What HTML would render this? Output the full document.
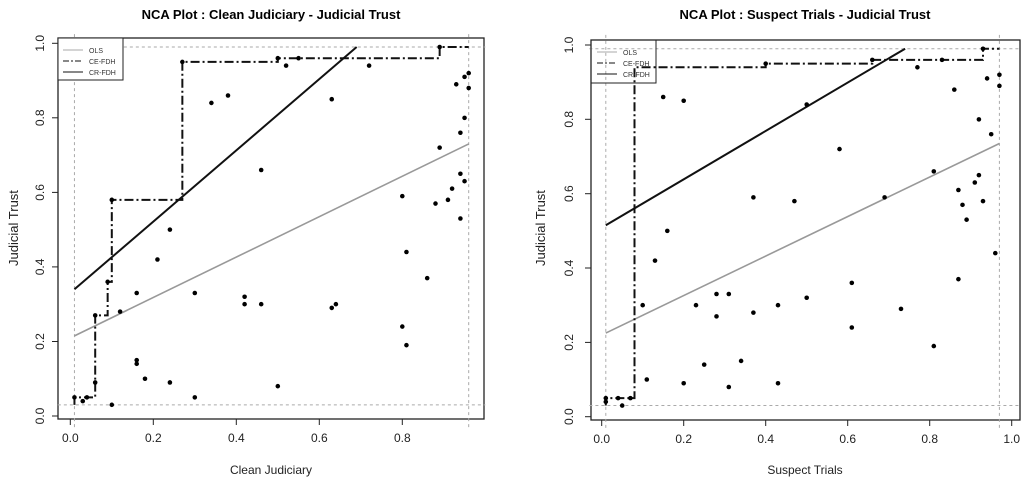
<!DOCTYPE html>
<html><head><meta charset="utf-8"><style>
html,body{margin:0;padding:0;background:#fff;}
svg{display:block;font-family:"Liberation Sans",Arial,sans-serif;}
</style></head><body>
<svg width="1024" height="484" viewBox="0 0 1024 484" xmlns="http://www.w3.org/2000/svg">
<rect width="1024" height="484" fill="#fff"/>
<!-- LEFT -->
<text x="271" y="19" text-anchor="middle" font-size="13" font-weight="bold">NCA Plot : Clean Judiciary - Judicial Trust</text>
<rect x="58" y="38" width="426" height="381" fill="none" stroke="#222" stroke-width="1.3"/>
<g stroke="#222" stroke-width="1">
<line x1="70.3" y1="419" x2="402.3" y2="419"/>
<line x1="70.3" y1="419" x2="70.3" y2="425"/><line x1="153.3" y1="419" x2="153.3" y2="425"/><line x1="236.3" y1="419" x2="236.3" y2="425"/><line x1="319.3" y1="419" x2="319.3" y2="425"/><line x1="402.3" y1="419" x2="402.3" y2="425"/>
<line x1="58" y1="416" x2="58" y2="43.3"/>
<line x1="52" y1="416" x2="58" y2="416"/><line x1="52" y1="341.5" x2="58" y2="341.5"/><line x1="52" y1="266.9" x2="58" y2="266.9"/><line x1="52" y1="192.4" x2="58" y2="192.4"/><line x1="52" y1="117.8" x2="58" y2="117.8"/><line x1="52" y1="43.3" x2="58" y2="43.3"/>
</g>
<g font-size="12" fill="#222" text-anchor="middle">
<text x="70.3" y="442">0.0</text><text x="153.3" y="442">0.2</text><text x="236.3" y="442">0.4</text><text x="319.3" y="442">0.6</text><text x="402.3" y="442">0.8</text>
<text transform="translate(44,416) rotate(-90)">0.0</text><text transform="translate(44,341.5) rotate(-90)">0.2</text><text transform="translate(44,266.9) rotate(-90)">0.4</text><text transform="translate(44,192.4) rotate(-90)">0.6</text><text transform="translate(44,117.8) rotate(-90)">0.8</text><text transform="translate(44,43.3) rotate(-90)">1.0</text>
<text x="271" y="474">Clean Judiciary</text>
<text transform="translate(18,228) rotate(-90)" font-size="13">Judicial Trust</text>
</g>
<g transform="translate(70.3,416) scale(415,-372.7)" fill="#000">
<g fill="none" vector-effect="non-scaling-stroke">
<line x1="0.01" y1="-0.03" x2="0.01" y2="1.03" stroke="#aaa" stroke-dasharray="3,3" vector-effect="non-scaling-stroke" stroke-width="1"/>
<line x1="0.96" y1="-0.03" x2="0.96" y2="1.03" stroke="#aaa" stroke-dasharray="3,3" vector-effect="non-scaling-stroke" stroke-width="1"/>
<line x1="-0.03" y1="0.03" x2="1.0" y2="0.03" stroke="#aaa" stroke-dasharray="3,3" vector-effect="non-scaling-stroke" stroke-width="1"/>
<line x1="-0.03" y1="0.99" x2="1.0" y2="0.99" stroke="#aaa" stroke-dasharray="3,3" vector-effect="non-scaling-stroke" stroke-width="1"/>
<line x1="0.01" y1="0.215" x2="0.96" y2="0.73" stroke="#999" stroke-width="1.6" vector-effect="non-scaling-stroke"/>
<line x1="0.01" y1="0.34" x2="0.69" y2="0.99" stroke="#111" stroke-width="2" vector-effect="non-scaling-stroke"/>
<polyline points="0.01,0.03 0.01,0.05 0.06,0.05 0.06,0.27 0.09,0.27 0.09,0.36 0.10,0.36 0.10,0.58 0.27,0.58 0.27,0.95 0.50,0.95 0.50,0.96 0.89,0.96 0.89,0.99 0.96,0.99" stroke="#111" stroke-width="2" stroke-dasharray="9,3,2,3" vector-effect="non-scaling-stroke"/>
</g>
<g id="ldots">
<ellipse cx="0.01" cy="0.05" rx="0.0055" ry="0.0061"/><ellipse cx="0.03" cy="0.04" rx="0.0055" ry="0.0061"/><ellipse cx="0.04" cy="0.05" rx="0.0055" ry="0.0061"/><ellipse cx="0.06" cy="0.09" rx="0.0055" ry="0.0061"/><ellipse cx="0.06" cy="0.27" rx="0.0055" ry="0.0061"/><ellipse cx="0.09" cy="0.36" rx="0.0055" ry="0.0061"/><ellipse cx="0.10" cy="0.58" rx="0.0055" ry="0.0061"/><ellipse cx="0.10" cy="0.03" rx="0.0055" ry="0.0061"/><ellipse cx="0.12" cy="0.28" rx="0.0055" ry="0.0061"/><ellipse cx="0.16" cy="0.33" rx="0.0055" ry="0.0061"/><ellipse cx="0.16" cy="0.15" rx="0.0055" ry="0.0061"/><ellipse cx="0.16" cy="0.14" rx="0.0055" ry="0.0061"/><ellipse cx="0.18" cy="0.10" rx="0.0055" ry="0.0061"/><ellipse cx="0.21" cy="0.42" rx="0.0055" ry="0.0061"/><ellipse cx="0.24" cy="0.50" rx="0.0055" ry="0.0061"/><ellipse cx="0.24" cy="0.09" rx="0.0055" ry="0.0061"/><ellipse cx="0.27" cy="0.95" rx="0.0055" ry="0.0061"/><ellipse cx="0.30" cy="0.33" rx="0.0055" ry="0.0061"/><ellipse cx="0.30" cy="0.05" rx="0.0055" ry="0.0061"/><ellipse cx="0.34" cy="0.84" rx="0.0055" ry="0.0061"/><ellipse cx="0.38" cy="0.86" rx="0.0055" ry="0.0061"/><ellipse cx="0.42" cy="0.32" rx="0.0055" ry="0.0061"/><ellipse cx="0.42" cy="0.30" rx="0.0055" ry="0.0061"/><ellipse cx="0.46" cy="0.66" rx="0.0055" ry="0.0061"/><ellipse cx="0.46" cy="0.30" rx="0.0055" ry="0.0061"/><ellipse cx="0.50" cy="0.08" rx="0.0055" ry="0.0061"/><ellipse cx="0.50" cy="0.96" rx="0.0055" ry="0.0061"/><ellipse cx="0.52" cy="0.94" rx="0.0055" ry="0.0061"/><ellipse cx="0.55" cy="0.96" rx="0.0055" ry="0.0061"/><ellipse cx="0.63" cy="0.85" rx="0.0055" ry="0.0061"/><ellipse cx="0.63" cy="0.29" rx="0.0055" ry="0.0061"/><ellipse cx="0.64" cy="0.30" rx="0.0055" ry="0.0061"/><ellipse cx="0.72" cy="0.94" rx="0.0055" ry="0.0061"/><ellipse cx="0.80" cy="0.59" rx="0.0055" ry="0.0061"/><ellipse cx="0.80" cy="0.24" rx="0.0055" ry="0.0061"/><ellipse cx="0.81" cy="0.44" rx="0.0055" ry="0.0061"/><ellipse cx="0.81" cy="0.19" rx="0.0055" ry="0.0061"/><ellipse cx="0.86" cy="0.37" rx="0.0055" ry="0.0061"/><ellipse cx="0.88" cy="0.57" rx="0.0055" ry="0.0061"/><ellipse cx="0.89" cy="0.72" rx="0.0055" ry="0.0061"/><ellipse cx="0.89" cy="0.99" rx="0.0055" ry="0.0061"/><ellipse cx="0.91" cy="0.58" rx="0.0055" ry="0.0061"/><ellipse cx="0.92" cy="0.61" rx="0.0055" ry="0.0061"/><ellipse cx="0.93" cy="0.89" rx="0.0055" ry="0.0061"/><ellipse cx="0.94" cy="0.76" rx="0.0055" ry="0.0061"/><ellipse cx="0.94" cy="0.65" rx="0.0055" ry="0.0061"/><ellipse cx="0.94" cy="0.53" rx="0.0055" ry="0.0061"/><ellipse cx="0.95" cy="0.91" rx="0.0055" ry="0.0061"/><ellipse cx="0.95" cy="0.80" rx="0.0055" ry="0.0061"/><ellipse cx="0.95" cy="0.63" rx="0.0055" ry="0.0061"/><ellipse cx="0.96" cy="0.92" rx="0.0055" ry="0.0061"/><ellipse cx="0.96" cy="0.88" rx="0.0055" ry="0.0061"/>
</g>
</g>
<rect x="58" y="38" width="65" height="42" fill="#fff" stroke="#222" stroke-width="1"/>
<g font-size="7" fill="#333">
<line x1="63" y1="50" x2="83" y2="50" stroke="#aaa"/><text x="89" y="53">OLS</text>
<line x1="63" y1="61" x2="83" y2="61" stroke="#111" stroke-dasharray="6,2,2,2"/><text x="89" y="64">CE-FDH</text>
<line x1="63" y1="72" x2="83" y2="72" stroke="#111"/><text x="89" y="75">CR-FDH</text>
</g>

<!-- RIGHT -->
<text x="805" y="19" text-anchor="middle" font-size="13" font-weight="bold">NCA Plot : Suspect Trials - Judicial Trust</text>
<rect x="591" y="40" width="429" height="380" fill="none" stroke="#222" stroke-width="1.3"/>
<g stroke="#222" stroke-width="1">
<line x1="601.7" y1="420" x2="1011.7" y2="420"/>
<line x1="601.7" y1="420" x2="601.7" y2="426"/><line x1="683.7" y1="420" x2="683.7" y2="426"/><line x1="765.7" y1="420" x2="765.7" y2="426"/><line x1="847.7" y1="420" x2="847.7" y2="426"/><line x1="929.7" y1="420" x2="929.7" y2="426"/><line x1="1011.7" y1="420" x2="1011.7" y2="426"/>
<line x1="591" y1="416.7" x2="591" y2="45"/>
<line x1="585" y1="416.7" x2="591" y2="416.7"/><line x1="585" y1="342.4" x2="591" y2="342.4"/><line x1="585" y1="268" x2="591" y2="268"/><line x1="585" y1="193.7" x2="591" y2="193.7"/><line x1="585" y1="119.3" x2="591" y2="119.3"/><line x1="585" y1="45" x2="591" y2="45"/>
</g>
<g font-size="12" fill="#222" text-anchor="middle">
<text x="601.7" y="443">0.0</text><text x="683.7" y="443">0.2</text><text x="765.7" y="443">0.4</text><text x="847.7" y="443">0.6</text><text x="929.7" y="443">0.8</text><text x="1011.7" y="443">1.0</text>
<text transform="translate(573,416.7) rotate(-90)">0.0</text><text transform="translate(573,342.4) rotate(-90)">0.2</text><text transform="translate(573,268) rotate(-90)">0.4</text><text transform="translate(573,193.7) rotate(-90)">0.6</text><text transform="translate(573,119.3) rotate(-90)">0.8</text><text transform="translate(573,45) rotate(-90)">1.0</text>
<text x="805" y="474">Suspect Trials</text>
<text transform="translate(545,228) rotate(-90)" font-size="13">Judicial Trust</text>
</g>
<g transform="translate(601.7,416.7) scale(410,-371.7)" fill="#000">
<g fill="none">
<line x1="0.01" y1="-0.03" x2="0.01" y2="1.03" stroke="#aaa" stroke-dasharray="3,3" vector-effect="non-scaling-stroke" stroke-width="1"/>
<line x1="0.97" y1="-0.03" x2="0.97" y2="1.03" stroke="#aaa" stroke-dasharray="3,3" vector-effect="non-scaling-stroke" stroke-width="1"/>
<line x1="-0.03" y1="0.03" x2="1.02" y2="0.03" stroke="#aaa" stroke-dasharray="3,3" vector-effect="non-scaling-stroke" stroke-width="1"/>
<line x1="-0.03" y1="0.99" x2="1.02" y2="0.99" stroke="#aaa" stroke-dasharray="3,3" vector-effect="non-scaling-stroke" stroke-width="1"/>
<line x1="0.01" y1="0.225" x2="0.97" y2="0.735" stroke="#999" stroke-width="1.6" vector-effect="non-scaling-stroke"/>
<line x1="0.01" y1="0.515" x2="0.74" y2="0.99" stroke="#111" stroke-width="2" vector-effect="non-scaling-stroke"/>
<polyline points="0.01,0.03 0.01,0.05 0.08,0.05 0.08,0.94 0.40,0.94 0.40,0.95 0.66,0.95 0.66,0.96 0.93,0.96 0.93,0.99 0.97,0.99" stroke="#111" stroke-width="2" stroke-dasharray="9,3,2,3" vector-effect="non-scaling-stroke"/>
</g>
<g>
<ellipse cx="0.01" cy="0.05" rx="0.0056" ry="0.0061"/><ellipse cx="0.01" cy="0.04" rx="0.0056" ry="0.0061"/><ellipse cx="0.04" cy="0.05" rx="0.0056" ry="0.0061"/><ellipse cx="0.05" cy="0.03" rx="0.0056" ry="0.0061"/><ellipse cx="0.07" cy="0.05" rx="0.0056" ry="0.0061"/><ellipse cx="0.10" cy="0.30" rx="0.0056" ry="0.0061"/><ellipse cx="0.11" cy="0.10" rx="0.0056" ry="0.0061"/><ellipse cx="0.13" cy="0.42" rx="0.0056" ry="0.0061"/><ellipse cx="0.15" cy="0.86" rx="0.0056" ry="0.0061"/><ellipse cx="0.16" cy="0.50" rx="0.0056" ry="0.0061"/><ellipse cx="0.20" cy="0.85" rx="0.0056" ry="0.0061"/><ellipse cx="0.20" cy="0.09" rx="0.0056" ry="0.0061"/><ellipse cx="0.23" cy="0.30" rx="0.0056" ry="0.0061"/><ellipse cx="0.25" cy="0.14" rx="0.0056" ry="0.0061"/><ellipse cx="0.28" cy="0.33" rx="0.0056" ry="0.0061"/><ellipse cx="0.28" cy="0.27" rx="0.0056" ry="0.0061"/><ellipse cx="0.31" cy="0.33" rx="0.0056" ry="0.0061"/><ellipse cx="0.31" cy="0.08" rx="0.0056" ry="0.0061"/><ellipse cx="0.34" cy="0.15" rx="0.0056" ry="0.0061"/><ellipse cx="0.37" cy="0.59" rx="0.0056" ry="0.0061"/><ellipse cx="0.37" cy="0.28" rx="0.0056" ry="0.0061"/><ellipse cx="0.40" cy="0.95" rx="0.0056" ry="0.0061"/><ellipse cx="0.43" cy="0.30" rx="0.0056" ry="0.0061"/><ellipse cx="0.43" cy="0.09" rx="0.0056" ry="0.0061"/><ellipse cx="0.47" cy="0.58" rx="0.0056" ry="0.0061"/><ellipse cx="0.50" cy="0.84" rx="0.0056" ry="0.0061"/><ellipse cx="0.50" cy="0.32" rx="0.0056" ry="0.0061"/><ellipse cx="0.58" cy="0.72" rx="0.0056" ry="0.0061"/><ellipse cx="0.61" cy="0.36" rx="0.0056" ry="0.0061"/><ellipse cx="0.61" cy="0.24" rx="0.0056" ry="0.0061"/><ellipse cx="0.66" cy="0.96" rx="0.0056" ry="0.0061"/><ellipse cx="0.69" cy="0.59" rx="0.0056" ry="0.0061"/><ellipse cx="0.73" cy="0.29" rx="0.0056" ry="0.0061"/><ellipse cx="0.77" cy="0.94" rx="0.0056" ry="0.0061"/><ellipse cx="0.81" cy="0.66" rx="0.0056" ry="0.0061"/><ellipse cx="0.81" cy="0.19" rx="0.0056" ry="0.0061"/><ellipse cx="0.83" cy="0.96" rx="0.0056" ry="0.0061"/><ellipse cx="0.86" cy="0.88" rx="0.0056" ry="0.0061"/><ellipse cx="0.87" cy="0.61" rx="0.0056" ry="0.0061"/><ellipse cx="0.87" cy="0.37" rx="0.0056" ry="0.0061"/><ellipse cx="0.88" cy="0.57" rx="0.0056" ry="0.0061"/><ellipse cx="0.89" cy="0.53" rx="0.0056" ry="0.0061"/><ellipse cx="0.91" cy="0.63" rx="0.0056" ry="0.0061"/><ellipse cx="0.92" cy="0.80" rx="0.0056" ry="0.0061"/><ellipse cx="0.92" cy="0.65" rx="0.0056" ry="0.0061"/><ellipse cx="0.93" cy="0.58" rx="0.0056" ry="0.0061"/><ellipse cx="0.93" cy="0.99" rx="0.0056" ry="0.0061"/><ellipse cx="0.94" cy="0.91" rx="0.0056" ry="0.0061"/><ellipse cx="0.95" cy="0.76" rx="0.0056" ry="0.0061"/><ellipse cx="0.96" cy="0.44" rx="0.0056" ry="0.0061"/><ellipse cx="0.97" cy="0.92" rx="0.0056" ry="0.0061"/><ellipse cx="0.97" cy="0.89" rx="0.0056" ry="0.0061"/>
</g>
</g>
<rect x="591" y="40" width="65" height="43" fill="none" stroke="#222" stroke-width="1"/>
<g font-size="7" fill="#333">
<line x1="597" y1="52" x2="617" y2="52" stroke="#aaa"/><text x="623" y="55">OLS</text>
<line x1="597" y1="63" x2="617" y2="63" stroke="#111" stroke-dasharray="6,2,2,2"/><text x="623" y="66">CE-FDH</text>
<line x1="597" y1="74" x2="617" y2="74" stroke="#111"/><text x="623" y="77">CR-FDH</text>
</g>
</svg>
</body></html>
